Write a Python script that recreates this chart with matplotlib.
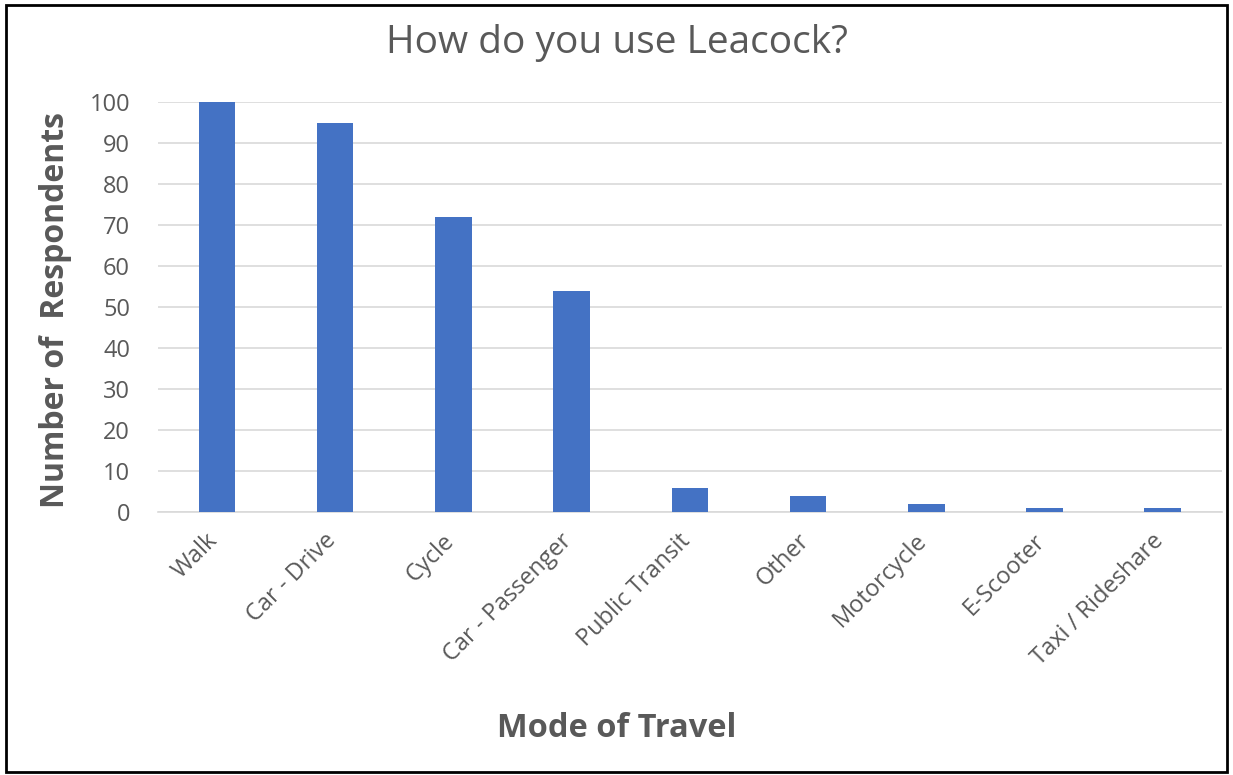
import matplotlib.pyplot as plt
import matplotlib.transforms as mtransforms
from matplotlib.patches import Rectangle

# Данные опроса
modes = ["Walk", "Car - Drive", "Cycle", "Car - Passenger", "Public Transit",
         "Other", "Motorcycle", "E-Scooter", "Taxi / Rideshare"]
counts = [100, 95, 72, 54, 6, 4, 2, 1, 1]

plt.rcParams["font.family"] = ["Open Sans", "DejaVu Sans"]

fig = plt.figure(figsize=(12.33, 7.75), dpi=100)
ax = fig.add_axes([0.128, 0.339, 0.863, 0.529])

ax.bar(range(len(modes)), counts, width=0.31, color="#4472C4", zorder=3)

ax.set_ylim(0, 100)
ax.set_xlim(-0.5, len(modes) - 0.5)
ax.set_yticks(range(0, 101, 10))
ax.set_xticks(range(len(modes)))
ax.set_xticklabels(modes, rotation=45, ha="right", rotation_mode="anchor")
ax.tick_params(axis="both", length=0, labelsize=17, labelcolor="#595959")
ax.tick_params(axis="x", pad=12)
ax.tick_params(axis="y", pad=20)

# сдвигаем подписи оси X немного влево, как в Excel
shift = mtransforms.ScaledTranslation(-8 / 72, 0, fig.dpi_scale_trans)
for lbl in ax.get_xticklabels():
    lbl.set_transform(lbl.get_transform() + shift)

ax.grid(axis="y", color="#D9D9D9", linewidth=1.2, zorder=0)
for side in ["top", "right", "left"]:
    ax.spines[side].set_visible(False)
ax.spines["bottom"].set_color("#D9D9D9")
ax.spines["bottom"].set_linewidth(1.2)

fig.text(0.5, 0.945, "How do you use Leacock?", ha="center", va="center",
         fontsize=28, color="#595959")
fig.text(0.5, 0.06, "Mode of Travel", ha="center", va="center",
         fontsize=23.5, fontweight="bold", color="#595959")
fig.text(0.045, 0.6, "Number of  Respondents", ha="center", va="center",
         rotation=90, fontsize=23, fontweight="bold", color="#595959")

# рамка вокруг всей картинки
fig.patches.append(Rectangle((0.005, 0.004), 0.99, 0.99, transform=fig.transFigure,
                             fill=False, edgecolor="black", linewidth=2))

plt.savefig("out.png", dpi=100)
